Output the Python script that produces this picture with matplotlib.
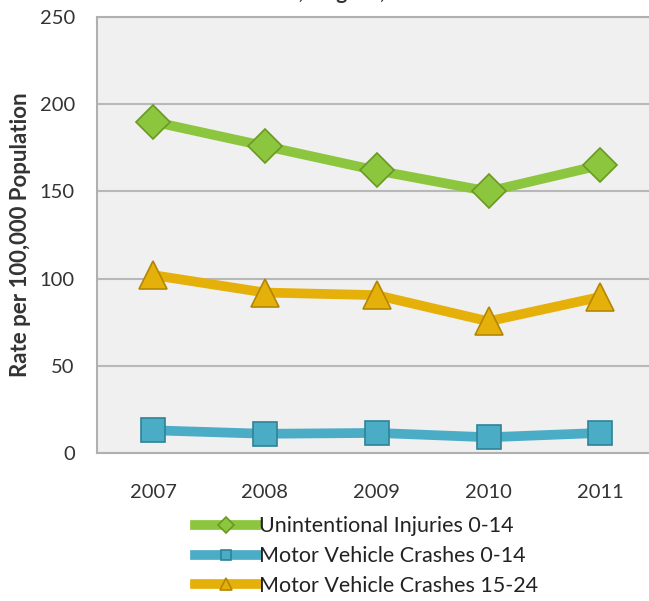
import numpy as np
import matplotlib
matplotlib.use("Agg")
import matplotlib.pyplot as plt

plt.rcParams['font.family'] = ['Lato', 'DejaVu Sans']

years = ['2007', '2008', '2009', '2010', '2011']
injuries_0_14 = [190, 176, 162, 150, 165]
mv_crashes_0_14 = [13, 11, 11.5, 9, 11.5]
mv_crashes_15_24 = [102, 92, 90.5, 75.5, 89.5]

fig = plt.figure(figsize=(6.49, 6.01), dpi=100)
ax = fig.add_axes([0.1495, 0.2463, 0.86, 0.7254])
ax.set_facecolor('#f0f0f0')

x = np.arange(len(years))
l1, = ax.plot(x, injuries_0_14, color='#8cc63f', lw=7, marker='D', ms=17,
              mfc='#8cc63f', mec='#6a9a20', mew=1.2, label='Unintentional Injuries 0-14', zorder=3)
l2, = ax.plot(x, mv_crashes_0_14, color='#4bacc6', lw=7, marker='s', ms=17,
              mfc='#4bacc6', mec='#2f8296', mew=1.2, label='Motor Vehicle Crashes 0-14', zorder=3)
l3, = ax.plot(x, mv_crashes_15_24, color='#e6b00a', lw=7, marker='^', ms=20,
              mfc='#e6b00a', mec='#b38600', mew=1.2, label='Motor Vehicle Crashes 15-24', zorder=3)

ax.set_xlim(-0.5, 4.49)
ax.set_ylim(0, 250)
ax.set_yticks([0, 50, 100, 150, 200, 250])
ax.set_xticks(x)
ax.set_xticklabels(years)
ax.yaxis.grid(True, color='#b8b8b8', lw=1.5)
ax.set_axisbelow(True)
for s in ax.spines.values():
    s.set_color('#b0b0b0')
    s.set_linewidth(1.5)
ax.tick_params(axis='both', length=0, labelsize=14.5, colors='#333333')
ax.tick_params(axis='y', pad=16)
ax.tick_params(axis='x', pad=22)
ax.set_ylabel('Rate per 100,000 Population', fontsize=16, fontweight='bold', color='#333333', labelpad=6)

# title is cropped at the top in the reference
fig.text(0.54, 1.012, 'Indicators, Virginia, 2007-2011', ha='center', va='center',
         fontsize=15, fontweight='bold', color='#333333')

leg = fig.legend(handles=[l1, l2, l3], loc='upper left', bbox_to_anchor=(0.27, 0.173),
                 bbox_transform=fig.transFigure, frameon=False, fontsize=15.5,
                 handlelength=2.9, handletextpad=0.1, labelspacing=0.45,
                 markerscale=0.45)
for t in leg.get_texts():
    t.set_color('#222222')

fig.savefig('out.png', dpi=100)
